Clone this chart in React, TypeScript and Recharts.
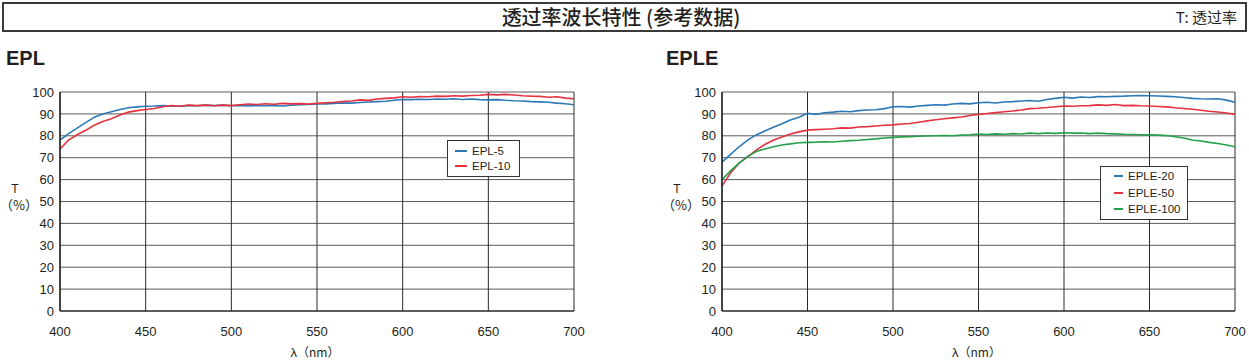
import { LineChart, Line, XAxis, YAxis, CartesianGrid, Legend } from "recharts";

// wavelength samples, nm
const wavelengths = [
  400, 405, 410, 415, 420, 425, 430, 435, 440, 445, 450, 455, 460, 465, 470, 475, 480, 485, 490, 495,
  500, 505, 510, 515, 520, 525, 530, 535, 540, 545, 550, 555, 560, 565, 570, 575, 580, 585, 590, 595,
  600, 605, 610, 615, 620, 625, 630, 635, 640, 645, 650, 655, 660, 665, 670, 675, 680, 685, 690, 695, 700,
];

const epl5 = [
  78, 81, 83.5, 86, 88.5, 90, 91, 92, 92.8, 93.2, 93.5, 93.6, 93.8, 93.6, 93.5, 93.8, 93.7, 94, 93.8, 94,
  93.7, 93.9, 93.6, 93.8, 93.7, 93.9, 93.6, 94, 94.2, 94.3, 94.5, 94.6, 94.8, 95, 94.9, 95.2, 95.4, 95.6, 95.8, 96.2,
  96.6, 96.5, 96.7, 96.6, 96.8, 96.7, 96.9, 96.6, 96.8, 96.5, 96.4, 96.5, 96.2, 96, 95.9, 95.6, 95.5, 95.3, 94.9, 94.6, 94.2,
];
const epl10 = [
  74, 78, 80.5, 82.5, 84.8, 86.5, 87.8, 89.5, 90.8, 91.5, 92, 92.5, 93.3, 93.8, 93.5, 94, 93.8, 94, 93.7, 94,
  93.8, 94.2, 94.5, 94.3, 94.6, 94.4, 94.8, 94.6, 94.7, 94.5, 94.8, 95.1, 95.3, 95.6, 95.9, 96.4, 96.2, 96.8, 97.1, 97.3,
  97.8, 97.6, 97.9, 97.8, 98.1, 98, 98.3, 98.1, 98.4, 98.5, 98.9, 98.7, 98.9, 98.6, 98.3, 98.1, 98, 97.6, 97.8, 97.2, 96.9,
];

const eple20 = [
  68, 71.5, 75, 78, 80.4, 82.2, 83.9, 85.5, 87.2, 88.5, 90.3, 89.8, 90.5, 90.8, 91.2, 91, 91.5, 91.8, 91.9, 92.4,
  93.3, 93.4, 93.1, 93.6, 93.9, 94.2, 94, 94.5, 94.8, 94.6, 95.1, 95.3, 95, 95.4, 95.6, 95.9, 96.1, 95.8, 96.6, 97.1,
  97.6, 97.2, 97.7, 97.5, 97.9, 97.8, 98, 98.1, 98.3, 98.4, 98.3, 98.2, 98, 97.8, 97.5, 97.1, 96.9, 96.8, 96.9, 96.3, 95.3,
];
const eple50 = [
  57, 63, 67.5, 70.5, 73.5, 76, 78, 79.5, 80.8, 81.8, 82.6, 82.8, 83, 83.2, 83.6, 83.5, 84, 84.2, 84.5, 84.8,
  85, 85.4, 85.6, 86.2, 86.8, 87.3, 87.8, 88.2, 88.6, 89.3, 89.8, 90.2, 90.6, 91, 91.3, 91.8, 92.4, 92.6, 92.9, 93.3,
  93.6, 93.5, 93.7, 93.8, 94.1, 93.9, 94.3, 93.8, 93.9, 93.7, 93.6, 93.4, 93.2, 92.8, 92.5, 92.1, 91.7, 91.2, 90.9, 90.4, 89.8,
];
const eple100 = [
  60, 64, 67.5, 70.5, 72.8, 74, 75, 75.8, 76.3, 76.8, 77, 77.1, 77.3, 77.2, 77.5, 77.8, 78, 78.3, 78.6, 79,
  79.3, 79.5, 79.6, 79.8, 79.9, 80, 80.1, 80, 80.3, 80.5, 80.8, 80.6, 80.9, 80.7, 81, 80.8, 81.2, 81, 81.3, 81.1,
  81.4, 81.2, 81.3, 81, 81.2, 81, 80.9, 80.7, 80.6, 80.5, 80.4, 80.3, 80.1, 79.6, 79, 78.1, 77.6, 77, 76.5, 75.8, 75,
];

const xTicks = [400, 450, 500, 550, 600, 650, 700];
const yTicks = [0, 10, 20, 30, 40, 50, 60, 70, 80, 90, 100];

const BLUE = "#2b78b6";
const RED = "#e3333f";
const GREEN = "#24a04c";
const FONT = "'Liberation Sans', Arial, 'Noto Sans CJK SC', sans-serif";
const CJK = "'Noto Sans CJK SC', sans-serif";

interface SeriesDef {
  key: string;
  name: string;
  color: string;
  values: number[];
}

interface LegendBox {
  left: number;
  top: number;
  width: number;
  rowH: number;
  padY: number;
  lineW: number;
  padX: number;
}

function makeLegend(box: LegendBox, series: SeriesDef[]) {
  return function LegendContent(props: any) {
    const items = [...(props.payload ?? [])];
    // keep the series order, not the alphabetical one
    const order = series.map((s) => s.name);
    items.sort((a: any, b: any) => order.indexOf(a.value) - order.indexOf(b.value));
    return (
      <div
        style={{
          width: box.width,
          boxSizing: "border-box",
          border: "1px solid #333",
          background: "#fff",
          padding: `${box.padY}px 0 ${box.padY}px ${box.padX}px`,
        }}
      >
        {items.map((it: any) => (
          <div key={it.value} style={{ display: "flex", alignItems: "center", height: box.rowH }}>
            <div style={{ width: box.lineW, height: 1.6, background: it.color, marginRight: 5 }} />
            <span style={{ fontFamily: FONT, fontSize: 11.5, color: "#231f20" }}>{it.value}</span>
          </div>
        ))}
      </div>
    );
  };
}

interface PanelProps {
  left: number;
  width: number;
  title: string;
  series: SeriesDef[];
  marginLeft: number;
  marginRight: number;
  legend: LegendBox;
}

function Panel({ left, width, title, series, marginLeft, marginRight, legend }: PanelProps) {
  const rows = wavelengths.map((wl, i) => {
    const r: Record<string, number> = { wl };
    series.forEach((s) => (r[s.key] = s.values[i]));
    return r;
  });
  const plotLeft = left + marginLeft + 40;
  const plotRight = left + width - marginRight;
  const LegendContent = makeLegend(legend, series);

  return (
    <>
      <div
        style={{
          position: "absolute",
          left: left + 6 - (left ? 1 : 0),
          top: 48,
          fontFamily: FONT,
          fontWeight: 700,
          fontSize: 20,
          lineHeight: "20px",
          color: "#231f20",
        }}
      >
        {title}
      </div>
      <div
        style={{
          position: "absolute",
          left: plotLeft - 60,
          top: 182,
          width: 30,
          textAlign: "center",
          fontFamily: FONT,
          fontSize: 12,
          lineHeight: "15px",
          color: "#231f20",
        }}
      >
        <div>T</div>
        <div style={{ fontFamily: CJK, fontSize: 13 }}>（%）</div>
      </div>
      <div
        style={{
          position: "absolute",
          left: (plotLeft + plotRight) / 2 - 62,
          top: 344,
          width: 120,
          textAlign: "center",
          fontFamily: FONT,
          fontSize: 13,
          lineHeight: "16px",
          color: "#231f20",
        }}
      >
        λ<span style={{ fontFamily: CJK, fontSize: 12 }}>（nm）</span>
      </div>
      <div style={{ position: "absolute", left, top: 0 }}>
        <LineChart width={width} height={364} data={rows} margin={{ top: 92, right: marginRight, bottom: 23, left: marginLeft }}>
          <CartesianGrid horizontal vertical={false} stroke="#5a5a5a" strokeWidth={1} />
          <CartesianGrid vertical horizontal={false} stroke="#2a2a2a" strokeWidth={1} />
          <XAxis
            type="number"
            dataKey="wl"
            domain={[400, 700]}
            ticks={xTicks}
            interval={0}
            tickLine={false}
            tickSize={0}
            tickMargin={16}
            height={30}
            axisLine={{ stroke: "#111", strokeWidth: 1.2 }}
            tick={{ fontFamily: FONT, fontSize: 13, fill: "#231f20" }}
          />
          <YAxis
            type="number"
            domain={[0, 100]}
            ticks={yTicks}
            interval={0}
            tickLine={false}
            tickSize={0}
            tickMargin={6}
            width={40}
            axisLine={{ stroke: "#111", strokeWidth: 1.2 }}
            tick={{ fontFamily: FONT, fontSize: 13, fill: "#231f20" }}
          />
          <Legend
            layout="vertical"
            align="center"
            verticalAlign="middle"
            content={<LegendContent />}
            wrapperStyle={{ left: legend.left - left, top: legend.top, width: "auto", height: "auto" }}
          />
          {series.map((s) => (
            <Line
              key={s.key}
              type="linear"
              dataKey={s.key}
              name={s.name}
              stroke={s.color}
              strokeWidth={1.6}
              dot={false}
              isAnimationActive={false}
            />
          ))}
        </LineChart>
      </div>
    </>
  );
}

export default function App() {
  const eplSeries: SeriesDef[] = [
    { key: "epl5", name: "EPL-5", color: BLUE, values: epl5 },
    { key: "epl10", name: "EPL-10", color: RED, values: epl10 },
  ];
  const epleSeries: SeriesDef[] = [
    { key: "eple20", name: "EPLE-20", color: BLUE, values: eple20 },
    { key: "eple50", name: "EPLE-50", color: RED, values: eple50 },
    { key: "eple100", name: "EPLE-100", color: GREEN, values: eple100 },
  ];

  return (
    <div style={{ position: "fixed", left: 0, top: 0, width: 1249, height: 364, background: "#fff", overflow: "hidden" }}>
      <div
        style={{
          position: "absolute",
          left: 2,
          top: 2,
          width: 1245,
          height: 30,
          boxSizing: "border-box",
          border: "2px solid #3a3a3a",
        }}
      >
        <div
          style={{
            position: "absolute",
            left: 0,
            right: 0,
            top: 0,
            textAlign: "center",
            fontFamily: CJK,
            fontWeight: 500,
            fontSize: 20,
            lineHeight: "26px",
            color: "#231f20",
            paddingRight: 7,
          }}
        >
          透过率波长特性 (参考数据)
        </div>
        <div
          style={{
            position: "absolute",
            right: 8,
            top: 0,
            fontFamily: CJK,
            fontSize: 15,
            lineHeight: "26px",
            color: "#231f20",
          }}
        >
          T: 透过率
        </div>
      </div>
      <Panel
        left={0}
        width={600}
        title="EPL"
        series={eplSeries}
        marginLeft={20}
        marginRight={26}
        legend={{ left: 447, top: 140, width: 73, rowH: 14.5, padY: 3, lineW: 12, padX: 7 }}
      />
      <Panel
        left={661}
        width={588}
        title="EPLE"
        series={epleSeries}
        marginLeft={21}
        marginRight={14}
        legend={{ left: 1100, top: 166, width: 88, rowH: 16.5, padY: 1, lineW: 9, padX: 13 }}
      />
    </div>
  );
}
